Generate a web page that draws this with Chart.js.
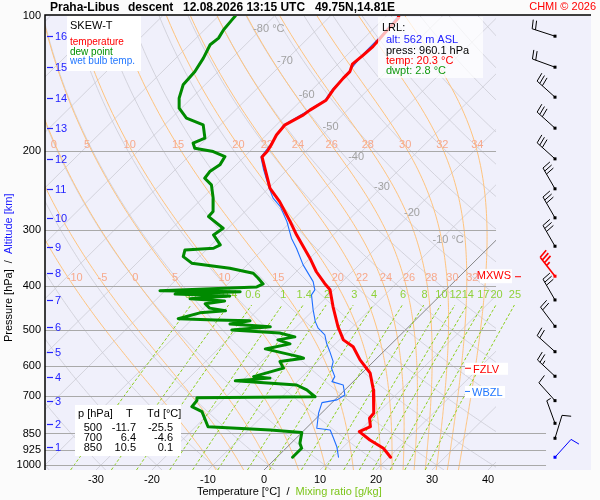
<!DOCTYPE html>
<html>
<head>
<meta charset="utf-8">
<title>Skew-T Praha-Libus</title>
<script src="https://cdn.jsdelivr.net/npm/chart.js@4.4.0/dist/chart.umd.min.js"></script>
<style>
  html, body { margin: 0; padding: 0; background: #fbfbfb; }
  #wrap { width: 600px; height: 500px; }
</style>
</head>
<body>
<div id="wrap"><canvas id="skewt" width="600" height="500"></canvas></div>
<script>
// Sounding data (pressure hPa / temperature °C)
const tempP = [100, 101, 110, 117, 122, 128, 133, 137.5, 146, 154, 162, 166, 175, 184, 194, 200, 206, 220, 242, 259, 287, 307, 346, 371, 394, 407, 444, 492, 526, 545, 583, 624, 680, 728, 766, 786, 821, 842, 879, 917, 960.1];
const tempT = [-57.8, -57.5, -57.2, -56.9, -57.1, -57.4, -56.5, -56.5, -56.2, -55.6, -56.7, -57.0, -58.5, -58.2, -57.3, -56.9, -56.8, -53.9, -49.7, -45.6, -40.1, -36.6, -30.0, -26.4, -22.8, -20.7, -17.1, -12.6, -9.3, -6.3, -2.7, 1.5, 5.1, 7.6, 9.3, 9.5, 11.2, 10.1, 13.5, 17.4, 20.3];

const dewP = [100, 102, 107.3, 112, 115.9, 124.1, 132.9, 142.3, 152.4, 160.4, 168.8, 174.7, 187, 191.9, 196.9, 200.3, 205.5, 214.5, 222, 229.7, 237.7, 254.4, 272.5, 279.6, 296.8, 307.2, 323.3, 328.9, 331.7, 343.3, 355, 364.3, 373.8, 383, 395, 401, 409, 411, 416, 420, 426, 431, 437, 447, 453, 458, 472, 475, 477, 485, 492, 500, 508, 518, 526, 537, 551, 574, 578, 588, 608, 635, 640, 649, 663, 680, 704, 708, 718, 741, 760, 821, 835, 846, 894, 917, 960.1];
const dewT = [-87.0, -86.9, -86.6, -86.0, -86.3, -85.1, -84.2, -83.9, -82.2, -80.4, -77.3, -73.1, -70.4, -71.6, -70.4, -66.5, -63.5, -62.9, -63.5, -63.2, -60.8, -58.1, -55.7, -55.6, -50.9, -51.4, -48.4, -49.0, -53.8, -52.9, -50.2, -42.5, -37.4, -35.7, -33.7, -34.3, -50.9, -36.4, -47.6, -37.5, -44.1, -37.5, -40.5, -38.9, -35.6, -39.8, -42.6, -35.8, -29.4, -32.4, -24.7, -31.0, -21.9, -18.5, -21.0, -18.1, -21.6, -14.0, -13.1, -16.7, -14.9, -18.7, -15.5, -21.2, -9.5, -6.8, -4.1, -25.0, -24.5, -24.3, -21.6, -17.8, -6.1, 0.0, 1.6, 2.8, 2.8];

const wetP = [100, 110, 122, 133, 146, 154, 162, 175, 194, 206, 220, 241.7, 254.4, 265.6, 286.9, 312.4, 328.8, 358.2, 390.2, 407.2, 417.7, 451.1, 479, 495.5, 512.8, 535.1, 558.6, 587.9, 608.2, 635.1, 651.6, 662.7, 697.6, 715.6, 725.6, 766.2, 827.6, 834.8, 871.2, 909.6, 960.1];
const wetT = [-57.9, -57.4, -57.3, -56.7, -56.4, -55.8, -56.9, -58.7, -57.5, -57.0, -54.2, -49.9, -47.4, -44.6, -40.7, -36.9, -34.2, -30.0, -25.2, -23.4, -23.1, -20.1, -17.6, -15.9, -13.5, -11.7, -9.6, -7.2, -6.3, -4.2, -3.8, -1.2, 0.9, 0.4, -1.8, -0.5, 1.9, 4.6, 6.7, 8.8, 11.0];

// Axes
const pressureTicks = [100, 200, 300, 400, 500, 600, 700, 850, 925, 1000];
const pressureLines = [200, 300, 400, 500, 600, 700, 850, 925, 1000];
const tempTicks = [-30, -20, -10, 0, 10, 20, 30, 40];
const altKm = [1, 2, 3, 4, 5, 6, 7, 8, 9, 10, 11, 12, 13, 14, 15, 16];
const altP = [912, 810, 718, 637, 559, 492, 429, 374, 326, 281, 242.5, 208, 178, 152, 130, 111];

// Wind profile
const windP = [110.9, 130, 151.6, 177.7, 208, 242.5, 281.4, 325.5, 379.6, 428.7, 490.7, 558.9, 633.9, 718.3, 806.8, 871.2, 960.1];
const windDir = [288, 290, 312, 312, 312, 330, 330, 330, 322, 330, 323, 312, 313, 318, 340, 17, 42];
const windSpd = [20, 20, 30, 30, 30, 30, 30, 30, 35, 30, 20, 20, 25, 10, 5, 10, 10];

// Reference lines
const isotherms = [-130, -120, -110, -100, -90, -80, -70, -60, -50, -40, -30, -20, -10, 0, 10, 20, 30, 40, 50];
const isoLabelT = [-80, -70, -60, -50, -40, -30, -20, -10];
const isoLabelP = [107, 126, 150, 176.5, 206, 240, 274, 315];
const dryTheta = [-40, -30, -20, -10, 0, 10, 20, 30, 40, 50, 60, 70, 80, 90, 100, 110, 120, 130, 140, 150, 160, 170, 180, 190, 200];
const thetaW = [-10, -5, 0, 5, 10, 15, 20, 22, 24, 26, 28, 30, 32, 34];
const thetaWLabelP = [194, 383];
const mixRatios = [0.2, 0.4, 0.6, 1, 1.4, 2, 3, 4, 6, 8, 10, 12, 14, 17, 20, 25];

// Summary table and levels
const tableP = [500, 700, 850];
const tableT = [-11.7, 6.4, 10.5];
const tableTd = [-25.5, -4.6, 0.1];
const lrl = { alt: 562, press: 960.1, temp: 20.3, dwpt: 2.8 };
const mxwsP = 379.6, fzlvP = 610, wbzlP = 687;

const P_BOT = 1025, P_TOP = 100, SKEW = 81, MIX_TOP = 430;
const X_MIN = -39.107, X_MAX = 58.39;
const DIAG_RIGHT = 41.43, DIAG_RIGHT_LOW = 50.36, BARB_X = 51.96;
const FONT = '"Liberation Sans", Arial, Helvetica, sans-serif';

const skewX = (t, p) => t + SKEW * Math.log10(P_BOT / p);
const line = (ps, ts) => ps.map((p, i) => ({ x: skewX(ts[i], p), y: p }));

function dTdp(p, T) {
    const tc = T - 273.15;
    const es = 6.112 * Math.exp(17.67 * tc / (tc + 243.5));
    const rs = 0.622 * es / (p - es);
    const Lv = 2.501e6, Rd = 287.04, Cp = 1005.7;
    return (Rd * T + Lv * rs) / (Cp + Lv * Lv * rs * 0.622 / (Rd * T * T)) / p;
}

function pseudoAdiabat(tw) {
    const rk = (p, T, dp) => {
        const k1 = dTdp(p, T);
        const k2 = dTdp(p + dp / 2, T + k1 * dp / 2);
        return T + k2 * dp;
    };
    const down = [];
    let T = tw + 273.15;
    for (let p = 1000; p < P_BOT; p += 5) { T = rk(p, T, 5); down.push([T - 273.15, p + 5]); }
    const pts = down.reverse();
    T = tw + 273.15;
    pts.push([tw, 1000]);
    for (let p = 1000; p > P_TOP; p -= 5) { T = rk(p, T, -5); pts.push([T - 273.15, p - 5]); }
    return pts;
}

function dewOfMix(w, p) {
    const e = w * p / (622 + w);
    const l = Math.log(e / 6.112);
    return 243.5 * l / (17.67 - l);
}

function drawBarb(ctx, bx, by, dir, spd, color, lw) {
    const r = dir * Math.PI / 180;
    const ux = Math.sin(r), uy = -Math.cos(r);
    const nx = Math.cos(r), ny = Math.sin(r);
    const len = 24, fl = 9, gap = 3.5, tilt = 0.2;
    const tx = bx + ux * len, ty = by + uy * len;
    ctx.strokeStyle = color;
    ctx.lineWidth = lw;
    ctx.beginPath();
    ctx.moveTo(bx, by);
    ctx.lineTo(tx, ty);
    const feather = (k, l) => {
        const sx = tx - ux * gap * k, sy = ty - uy * gap * k;
        ctx.moveTo(sx, sy);
        ctx.lineTo(sx + l * (nx + ux * tilt), sy + l * (ny + uy * tilt));
    };
    let s = spd, k = 0;
    while (s >= 10) { feather(k, fl); s -= 10; k++; }
    if (s >= 5) feather(k, fl / 2);
    ctx.stroke();
    ctx.fillStyle = color;
    ctx.fillRect(bx - 1.5, by - 1.5, 3, 3);
}

function textBox(ctx, x, y, w, h, alpha) {
    ctx.save();
    ctx.fillStyle = 'rgba(255,255,255,' + alpha + ')';
    ctx.fillRect(x, y, w, h);
    ctx.restore();
}

const skewtPlugin = {
    id: 'skewt',
    beforeDatasetsDraw(chart) {
        const { ctx, chartArea: a, scales: { x, y } } = chart;
        const px = (t, p) => x.getPixelForValue(skewX(t, p));
        const py = p => y.getPixelForValue(p);
        const path = pts => {
            ctx.beginPath();
            pts.forEach(([t, p], i) => i ? ctx.lineTo(px(t, p), py(p)) : ctx.moveTo(px(t, p), py(p)));
            ctx.stroke();
        };
        const right = x.getPixelForValue(DIAG_RIGHT);
        const rightLow = x.getPixelForValue(DIAG_RIGHT_LOW);

        ctx.save();
        ctx.fillStyle = '#f0f0fb';
        ctx.fillRect(a.left, 15, a.right - a.left, a.bottom - 15);

        // diagram lines clipped to the skew-T area
        ctx.save();
        ctx.beginPath();
        ctx.rect(a.left, a.top, right - a.left, a.bottom - a.top);
        ctx.clip();
        ctx.lineWidth = 0.8;
        ctx.strokeStyle = '#cbcbd4';
        isotherms.forEach(t => { if (t !== 0) path([[t, P_BOT], [t, P_TOP]]); });
        dryTheta.forEach(th => {
            const pts = [];
            for (let p = P_BOT; p >= P_TOP; p -= 5) pts.push([(th + 273.15) * Math.pow(p / 1000, 0.2857) - 273.15, p]);
            path(pts);
        });
        ctx.strokeStyle = '#ffc47e';
        ctx.lineWidth = 1;
        const wetLines = thetaW.map(tw => pseudoAdiabat(tw));
        wetLines.forEach(path);
        ctx.strokeStyle = '#7a7a7a';
        ctx.lineWidth = 0.9;
        path([[0, P_BOT], [0, P_TOP]]);

        // labels of isotherms and pseudo-adiabats
        ctx.font = '11px ' + FONT;
        ctx.textBaseline = 'middle';
        ctx.fillStyle = '#a2a2a2';
        isoLabelT.forEach((t, i) => {
            const p = isoLabelP[i];
            const lx = px(t, p), ly = py(p);
            const s = String(t);
            ctx.textAlign = 'center';
            ctx.fillText(s, lx, ly);
            if (i === 0 || i === isoLabelT.length - 1) {
                ctx.textAlign = 'left';
                ctx.fillText(' °C', lx + ctx.measureText(s).width / 2, ly);
            }
        });
        ctx.fillStyle = '#f7a98c';
        ctx.textAlign = 'left';
        wetLines.forEach((pts, i) => {
            thetaWLabelP.forEach(lp => {
                const j = pts.findIndex(q => q[1] <= lp);
                if (j < 0) return;
                ctx.fillText(String(thetaW[i]), px(pts[j][0], lp) + 1, py(lp));
            });
        });
        ctx.restore();

        // mixing ratio lines
        ctx.save();
        ctx.beginPath();
        ctx.rect(a.left, a.top, rightLow - a.left, a.bottom - a.top);
        ctx.clip();
        ctx.strokeStyle = '#8ccf1c';
        ctx.lineWidth = 1;
        ctx.setLineDash([3, 2]);
        mixRatios.forEach(w => {
            const pts = [];
            for (let p = P_BOT; p >= MIX_TOP; p -= 15) pts.push([dewOfMix(w, p), p]);
            path(pts);
        });
        ctx.setLineDash([]);
        ctx.fillStyle = '#8fd13a';
        ctx.font = '11px ' + FONT;
        ctx.textAlign = 'center';
        ctx.textBaseline = 'middle';
        mixRatios.forEach(w => {
            ctx.fillText(String(w), px(dewOfMix(w, MIX_TOP), MIX_TOP) - 2, py(MIX_TOP) - 6);
        });
        ctx.restore();

        // pressure lines
        ctx.strokeStyle = '#a9a9a9';
        ctx.lineWidth = 1.2;
        pressureLines.forEach(p => {
            const yy = Math.round(py(p)) + 0.5;
            ctx.beginPath();
            ctx.moveTo(a.left, yy);
            ctx.lineTo(p >= 850 ? rightLow : right, yy);
            ctx.stroke();
        });

        // frame
        ctx.strokeStyle = '#000';
        ctx.lineWidth = 1.5;
        ctx.beginPath();
        ctx.moveTo(a.left, a.bottom);
        ctx.lineTo(a.left, 15);
        ctx.lineTo(a.right, 15);
        ctx.stroke();
        ctx.restore();
    },
    afterDatasetsDraw(chart) {
        const { ctx, chartArea: a, scales: { x, y } } = chart;
        const py = p => y.getPixelForValue(p);
        ctx.save();
        ctx.textBaseline = 'middle';

        // altitude ticks
        ctx.strokeStyle = '#2323ff';
        ctx.fillStyle = '#2323ff';
        ctx.lineWidth = 1.2;
        ctx.font = '11px ' + FONT;
        ctx.textAlign = 'left';
        altKm.forEach((km, i) => {
            const yy = Math.round(py(altP[i])) + 0.5;
            ctx.beginPath();
            ctx.moveTo(a.left + 2, yy);
            ctx.lineTo(a.left + 8, yy);
            ctx.stroke();
            ctx.fillText(String(km), a.left + 10, yy);
        });

        // wind barbs
        const bx = x.getPixelForValue(BARB_X);
        windP.forEach((p, i) => {
            let color = '#000', lw = 1;
            if (p === mxwsP) { color = '#ff0000'; lw = 1.6; }
            if (i === windP.length - 1) { color = '#0000ff'; }
            drawBarb(ctx, bx, py(p), windDir[i], windSpd[i], color, lw);
        });

        // legend box
        textBox(ctx, 67, 16, 74, 55, 1);
        ctx.textAlign = 'left';
        ctx.fillStyle = '#000';
        ctx.font = '11px ' + FONT;
        ctx.fillText('SKEW-T', 70, 26);
        ctx.font = '10px ' + FONT;
        ctx.fillStyle = '#ff0000';
        ctx.fillText('temperature', 70, 42);
        ctx.fillStyle = '#009000';
        ctx.fillText('dew point', 70, 52);
        ctx.fillStyle = '#2277ff';
        ctx.fillText('wet bulb temp.', 70, 61.5);

        // lowest reported level box
        textBox(ctx, 378, 17, 105, 61, 0.72);
        ctx.font = '11px ' + FONT;
        ctx.fillStyle = '#000';
        ctx.fillText('LRL:', 382, 27.5);
        ctx.fillStyle = '#1a1aff';
        ctx.fillText('alt: ' + lrl.alt + ' m ASL', 386, 40);
        ctx.fillStyle = '#000';
        ctx.fillText('press: ' + lrl.press.toFixed(1) + ' hPa', 386, 50.5);
        ctx.fillStyle = '#ff0000';
        ctx.fillText('temp: ' + lrl.temp.toFixed(1) + ' °C', 386, 61);
        ctx.fillStyle = '#119911';
        ctx.fillText('dwpt: ' + lrl.dwpt.toFixed(1) + ' °C', 386, 71);

        // table
        textBox(ctx, 75, 405, 106, 51, 1);
        ctx.fillStyle = '#000';
        ctx.fillText('p [hPa]', 78, 414);
        ctx.fillText('T', 126, 414);
        ctx.fillText('Td [°C]', 147, 414);
        ctx.textAlign = 'right';
        tableP.forEach((p, i) => {
            const yy = 428 + i * 10;
            ctx.fillText(String(p), 102, yy);
            ctx.fillText(tableT[i].toFixed(1), 136, yy);
            ctx.fillText(tableTd[i].toFixed(1), 173, yy);
        });

        // special levels
        let yy = py(mxwsP);
        textBox(ctx, 480, yy - 7, 32, 14, 1);
        ctx.fillStyle = '#ff0000';
        ctx.strokeStyle = '#ff0000';
        ctx.lineWidth = 1;
        ctx.fillText('MXWS', 511, yy);
        ctx.beginPath(); ctx.moveTo(515, yy + 0.5); ctx.lineTo(521, yy + 0.5); ctx.stroke();
        yy = py(fzlvP);
        textBox(ctx, 465, yy - 6, 43, 12, 1);
        ctx.textAlign = 'left';
        ctx.beginPath(); ctx.moveTo(465, yy - 0.5); ctx.lineTo(471, yy - 0.5); ctx.stroke();
        ctx.fillText('FZLV', 473, yy + 1);
        yy = py(wbzlP);
        textBox(ctx, 465, yy - 6, 40, 12, 1);
        ctx.fillStyle = '#2277ff';
        ctx.strokeStyle = '#2277ff';
        ctx.beginPath(); ctx.moveTo(465, yy - 0.5); ctx.lineTo(470, yy - 0.5); ctx.stroke();
        ctx.fillText('WBZL', 472, yy + 1);

        // title
        ctx.textAlign = 'left';
        ctx.fillStyle = '#000';
        ctx.font = 'bold 12px ' + FONT;
        ctx.fillText('Praha-Libus', 50, 8);
        ctx.fillText('descent', 128, 8);
        ctx.fillText('12.08.2026 13:15 UTC', 183, 8);
        ctx.textAlign = 'right';
        ctx.fillText('49.75N,14.81E', 395, 8);
        ctx.font = '11px ' + FONT;
        ctx.fillStyle = '#ff0000';
        ctx.fillText('CHMI © 2026', 596, 7);

        // axis titles
        ctx.textAlign = 'left';
        ctx.font = '11px ' + FONT;
        const parts = [['Temperature [°C]', '#000'], ['  /  ', '#000'], ['Mixing ratio [g/kg]', '#7cc51a']];
        let tx = 197;
        parts.forEach(([s, c]) => { ctx.fillStyle = c; ctx.fillText(s, tx, 492); tx += ctx.measureText(s).width; });
        ctx.translate(9, 342);
        ctx.rotate(-Math.PI / 2);
        const vparts = [['Pressure [hPa]', '#000'], ['  /  ', '#000'], ['Altitude [km]', '#1a1aff']];
        tx = 0;
        vparts.forEach(([s, c]) => { ctx.fillStyle = c; ctx.fillText(s, tx, 0); tx += ctx.measureText(s).width; });
        ctx.restore();
    }
};

Chart.defaults.font.family = FONT;

new Chart(document.getElementById('skewt').getContext('2d'), {
    type: 'scatter',
    data: {
        datasets: [
            { label: 'temperature', data: line(tempP, tempT), borderColor: '#ff0000', borderWidth: 3 },
            { label: 'dew point', data: line(dewP, dewT), borderColor: '#008a00', borderWidth: 3 },
            { label: 'wet bulb temp.', data: line(wetP, wetT), borderColor: '#1f6fff', borderWidth: 1.1 }
        ].map(d => Object.assign(d, { showLine: true, pointRadius: 0, tension: 0, borderJoinStyle: 'round', borderCapStyle: 'round' }))
    },
    options: {
        responsive: false,
        animation: false,
        events: [],
        layout: { padding: { top: 16, right: 9, left: 0, bottom: 0 } },
        plugins: { legend: { display: false }, tooltip: { enabled: false } },
        scales: {
            x: {
                type: 'linear',
                min: X_MIN,
                max: X_MAX,
                grid: { display: false, drawTicks: false },
                border: { display: false },
                afterBuildTicks: s => { s.ticks = tempTicks.map(v => ({ value: v })); },
                afterFit: s => { s.height = 30; },
                ticks: { color: '#000', font: { size: 11 }, padding: 3, autoSkip: false, maxRotation: 0, callback: v => String(v) }
            },
            y: {
                type: 'logarithmic',
                min: P_TOP,
                max: P_BOT,
                reverse: true,
                grid: { display: false, drawTicks: false },
                border: { display: false },
                afterBuildTicks: s => { s.ticks = pressureTicks.map(v => ({ value: v })); },
                afterFit: s => { s.width = 45; },
                ticks: { color: '#000', font: { size: 11 }, padding: 4, autoSkip: false, callback: v => String(v) }
            }
        }
    },
    plugins: [skewtPlugin]
});
</script>
</body>
</html>
